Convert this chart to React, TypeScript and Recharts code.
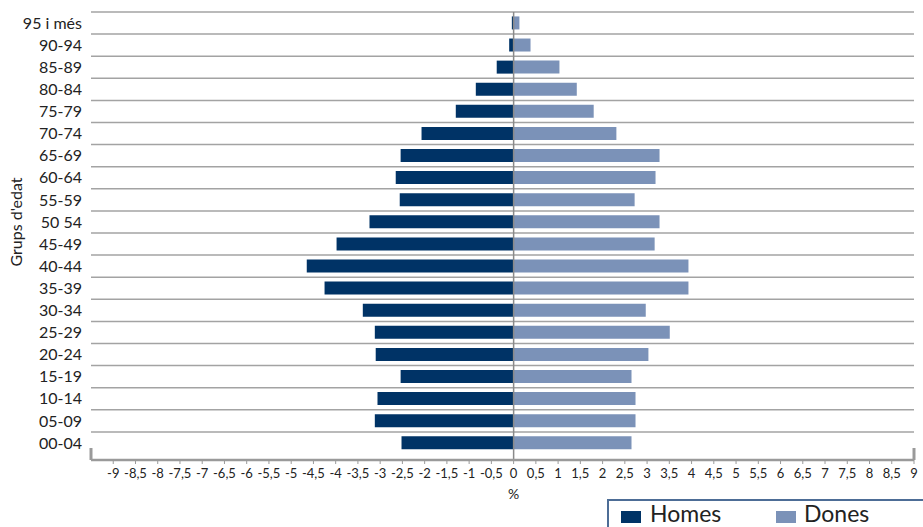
import { BarChart, Bar, XAxis, YAxis, CartesianGrid, ReferenceLine } from 'recharts'

// Population pyramid, % of total population by 5-year age group (top row first)
const ageGroups = [
  '95 i més', '90-94', '85-89', '80-84', '75-79', '70-74', '65-69', '60-64', '55-59', '50 54',
  '45-49', '40-44', '35-39', '30-34', '25-29', '20-24', '15-19', '10-14', '05-09', '00-04',
]
const homes = [
  -0.04, -0.1, -0.38, -0.85, -1.3, -2.07, -2.54, -2.65, -2.56, -3.24,
  -3.98, -4.65, -4.25, -3.39, -3.12, -3.1, -2.54, -3.06, -3.12, -2.52,
]
const dones = [
  0.13, 0.38, 1.03, 1.42, 1.8, 2.31, 3.28, 3.19, 2.72, 3.28,
  3.17, 3.93, 3.93, 2.97, 3.51, 3.03, 2.65, 2.74, 2.74, 2.65,
]
const seriesNames = ['Homes', 'Dones']
const seriesColors = ['#003366', '#7b92b8']
// -9.5 is the left end of the axis (no label), the rest are labelled
const xTicks = [
  -9.5, -9, -8.5, -8, -7.5, -7, -6.5, -6, -5.5, -5, -4.5, -4, -3.5, -3, -2.5, -2, -1.5, -1, -0.5,
  0, 0.5, 1, 1.5, 2, 2.5, 3, 3.5, 4, 4.5, 5, 5.5, 6, 6.5, 7, 7.5, 8, 8.5, 9,
]

const data = ageGroups.map((group, i) => ({ group, homes: homes[i], dones: dones[i] }))

const AXIS_GRAY = '#9a9a9a'
const FONT = 'Lato, "DejaVu Sans", sans-serif'
const BOTTOM_PAD = 6

function XTick({ x, y, payload }: any) {
  const v = payload.value as number
  const bracket = (
    <line x1={x} x2={x} y1={y - 12} y2={y} stroke={AXIS_GRAY} strokeWidth={3} />
  )
  if (v === -9.5) return bracket
  const label = String(v).replace('.', ',')
  return (
    <g>
      {v === 9 && bracket}
      <line x1={x} x2={x} y1={y} y2={y + 4} stroke={AXIS_GRAY} strokeWidth={1} />
      <text x={x} y={y + 18} textAnchor="middle" fontSize={13} fill="#222" fontFamily={FONT}>
        {label}
      </text>
      {v === 0 && (
        <text x={x} y={y + 39} textAnchor="middle" fontSize={14} fill="#222" fontFamily={FONT}>
          %
        </text>
      )}
    </g>
  )
}

function YTitle({ viewBox }: any) {
  const cx = viewBox.x + 22
  const cy = viewBox.y + viewBox.height / 2 - 14
  return (
    <text
      x={cx}
      y={cy}
      transform={`rotate(-90 ${cx} ${cy})`}
      textAnchor="middle"
      fontSize={16}
      fill="#222"
      fontFamily={FONT}
    >
      Grups d'edat
    </text>
  )
}

export default function App() {
  return (
    <div
      style={{
        position: 'absolute',
        left: 0,
        top: 0,
        width: 923,
        height: 527,
        overflow: 'hidden',
        background: '#fff',
        fontFamily: FONT,
      }}
    >
      <BarChart
        width={923}
        height={527}
        data={data}
        layout="vertical"
        stackOffset="sign"
        barCategoryGap="20%"
        margin={{ top: 12, right: 9, bottom: 0, left: 0 }}
      >
        <CartesianGrid
          vertical={false}
          stroke="#a3a3a3"
          strokeWidth={1.5}
          horizontalCoordinatesGenerator={({ offset }: any) => {
            const h = (offset.height - BOTTOM_PAD) / ageGroups.length
            return ageGroups.map((_, i) => offset.top + i * h)
          }}
        />
        <XAxis
          type="number"
          domain={[-9.5, 9]}
          ticks={xTicks}
          interval={0}
          height={67}
          tickSize={0}
          tickMargin={0}
          tickLine={false}
          axisLine={{ stroke: AXIS_GRAY, strokeWidth: 2.5 }}
          tick={<XTick />}
        />
        <YAxis
          type="category"
          dataKey="group"
          width={91}
          interval={0}
          padding={{ top: 0, bottom: BOTTOM_PAD }}
          tickSize={0}
          tickMargin={9}
          axisLine={false}
          tickLine={false}
          tick={{ fontSize: 16, fill: '#222', fontFamily: FONT }}
          label={<YTitle />}
        />
        <Bar dataKey="homes" name={seriesNames[0]} stackId="p" fill={seriesColors[0]} isAnimationActive={false} />
        <Bar dataKey="dones" name={seriesNames[1]} stackId="p" fill={seriesColors[1]} isAnimationActive={false} />
        <ReferenceLine x={0} stroke="#8a8a8a" strokeWidth={1.5} />
      </BarChart>
      <div
        style={{
          position: 'absolute',
          left: 607,
          top: 499,
          width: 340,
          height: 60,
          border: '2px solid #4d6d96',
          boxSizing: 'border-box',
          background: '#fff',
        }}
      >
        {seriesNames.map((name, i) => (
          <div key={name}>
            <div
              style={{
                position: 'absolute',
                left: 12 + i * 155,
                top: 10,
                width: 20,
                height: 12,
                background: seriesColors[i],
              }}
            />
            <div
              style={{
                position: 'absolute',
                left: 41 + i * 154,
                top: 1,
                fontSize: 23,
                lineHeight: 1,
                color: '#222',
                whiteSpace: 'nowrap',
              }}
            >
              {name}
            </div>
          </div>
        ))}
      </div>
    </div>
  )
}
